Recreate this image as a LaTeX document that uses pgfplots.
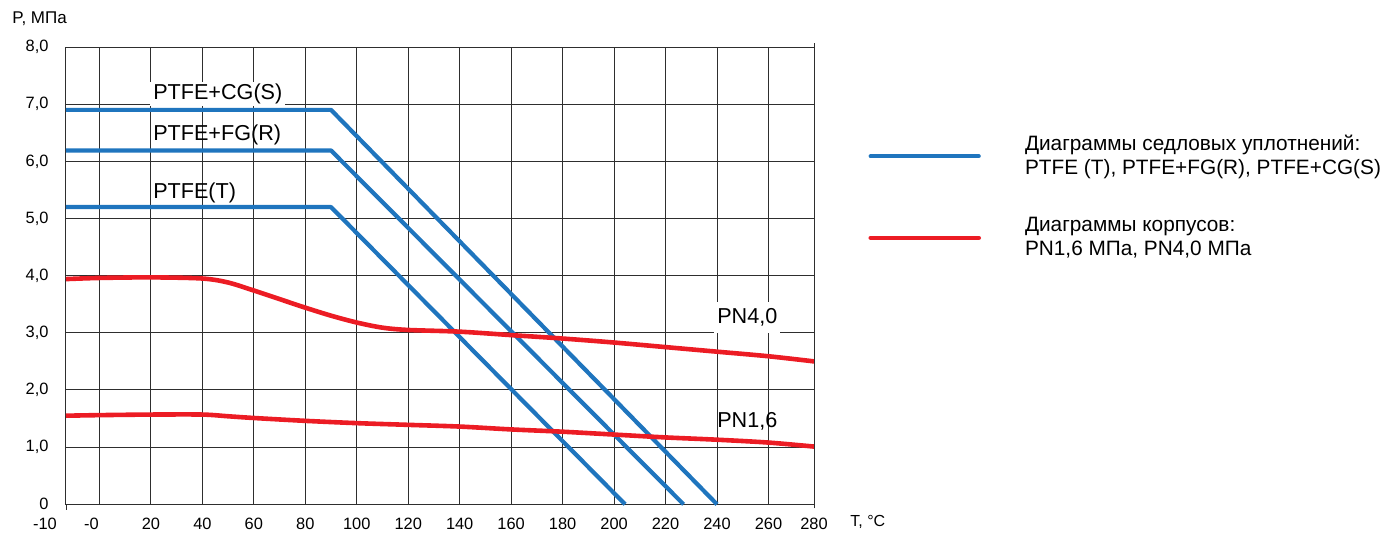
\documentclass[border=0pt]{standalone}
\usepackage{fontspec}
\setmainfont{Liberation Sans}
\usepackage{pgfplots}
\pgfplotsset{compat=1.18}
\definecolor{sealblue}{HTML}{1F75BE}
\definecolor{bodyred}{HTML}{EC1C24}
\definecolor{gridgray}{HTML}{2E2E2E}

\begin{document}
\begin{tikzpicture}
\path[use as bounding box] (-33pt,-13.85pt) rectangle (662.5pt,252.15pt);
\begin{axis}[
    at={(0pt,0pt)}, anchor=south west,
    scale only axis,
    width=374pt, height=228.65pt,
    xmin=-13, xmax=277.7,
    ymin=0, ymax=8,
    xtick={-13,0,20,40,60,80,100,120,140,160,180,200,220,240,260,277.7},
    xticklabels={{\hspace*{-21pt}-10},{\hspace*{-8pt}-0},20,40,60,80,100,120,140,160,180,200,220,240,260,280},
    ytick={0,1,2,3,4,5,6,7,8},
    yticklabels={0,{1,0},{2,0},{3,0},{4,0},{5,0},{6,0},{7,0},{8,0}},
    grid=major,
    major grid style={gridgray, line width=0.5pt},
    axis line style={gridgray, line width=0.5pt},
    major tick length=0pt,
    tick label style={font=\fontsize{8.2}{9.5}\selectfont},
    xticklabel style={yshift=-3.2pt},
    yticklabel style={xshift=-5.2pt},
    clip=false,
    legend cell align=left,
    legend style={
      at={(1.0722,0.818)}, anchor=north west,
      draw=none, fill=none, inner sep=0pt,
      font=\fontsize{10.4}{12.4}\selectfont,
      nodes={align=left, inner sep=2pt},
      row sep=15.5pt, column sep=20pt,
    },
    legend image code/.code={\draw[#1, line cap=round] (0pt,0pt) -- (54pt,0pt);},
  ]

  % curve labels (white boxes hide the grid behind them)
  \node[fill=white, inner xsep=1.5pt, inner ysep=1.2pt, anchor=base west,
    font=\fontsize{10.8}{13}\selectfont] at (axis cs:19.6,7.08) {PTFE+CG(S)};
  \node[anchor=base west, inner sep=1.5pt,
    font=\fontsize{10.8}{13}\selectfont] at (axis cs:19.6,6.36) {PTFE+FG(R)};
  \node[anchor=base west, inner sep=1.5pt,
    font=\fontsize{10.8}{13}\selectfont] at (axis cs:19.6,5.35) {PTFE(T)};
  \node[fill=white, inner xsep=1.5pt, inner ysep=3.5pt, anchor=base west,
    font=\fontsize{10.8}{13}\selectfont] at (axis cs:238.8,3.16) {PN4,0};
  \node[anchor=base west, inner sep=1.5pt,
    font=\fontsize{10.8}{13}\selectfont] at (axis cs:238.8,1.34) {PN1,6};

  % seat seals
  \addplot[sealblue, line width=2.1pt, line join=round] coordinates {
    (-13,6.9) (90,6.9) (240,0)};
  \addlegendentry{Диаграммы седловых уплотнений:\\PTFE (T), PTFE+FG(R), PTFE+CG(S)}
  \addplot[sealblue, line width=2.1pt, line join=round, forget plot] coordinates {
    (-13,6.19) (90,6.19) (227,0)};
  \addplot[sealblue, line width=2.1pt, line join=round, forget plot] coordinates {
    (-13,5.2) (90,5.2) (204.3,0)};

  % bodies
  \addplot[bodyred, line width=2.3pt, smooth, tension=0.5] coordinates {
    (-13,3.94) (0,3.96) (20,3.97) (40,3.95) (50,3.88) (60,3.74) (70,3.59)
    (80,3.44) (90,3.30) (100,3.18) (110,3.09) (120,3.05) (140,3.02)
    (160,2.96) (180,2.90) (200,2.83) (220,2.75) (240,2.67) (260,2.59)
    (277.7,2.50)};
  \addlegendentry{Диаграммы корпусов:\\PN1,6 МПа, PN4,0 МПа}
  \addplot[bodyred, line width=2.3pt, smooth, tension=0.5, forget plot] coordinates {
    (-13,1.55) (0,1.56) (20,1.57) (40,1.57) (50,1.54) (60,1.51) (80,1.46)
    (100,1.42) (120,1.39) (140,1.36) (160,1.31) (180,1.27) (200,1.22)
    (220,1.17) (240,1.13) (260,1.08) (277.7,1.01)};
\end{axis}
\draw[gridgray, line width=0.5pt] (0pt,0pt) -- (0pt,-3pt);
\draw[gridgray, line width=0.5pt] (374pt,-2pt) -- (374pt,230.5pt);
\node[anchor=west, inner sep=0pt, font=\fontsize{8.5}{10}\selectfont]
  at (-27pt,242.6pt) {P, МПа};
\node[anchor=west, inner sep=0pt, font=\fontsize{8}{10}\selectfont]
  at (392pt,-8.85pt) {T, °C};
\end{tikzpicture}
\end{document}
